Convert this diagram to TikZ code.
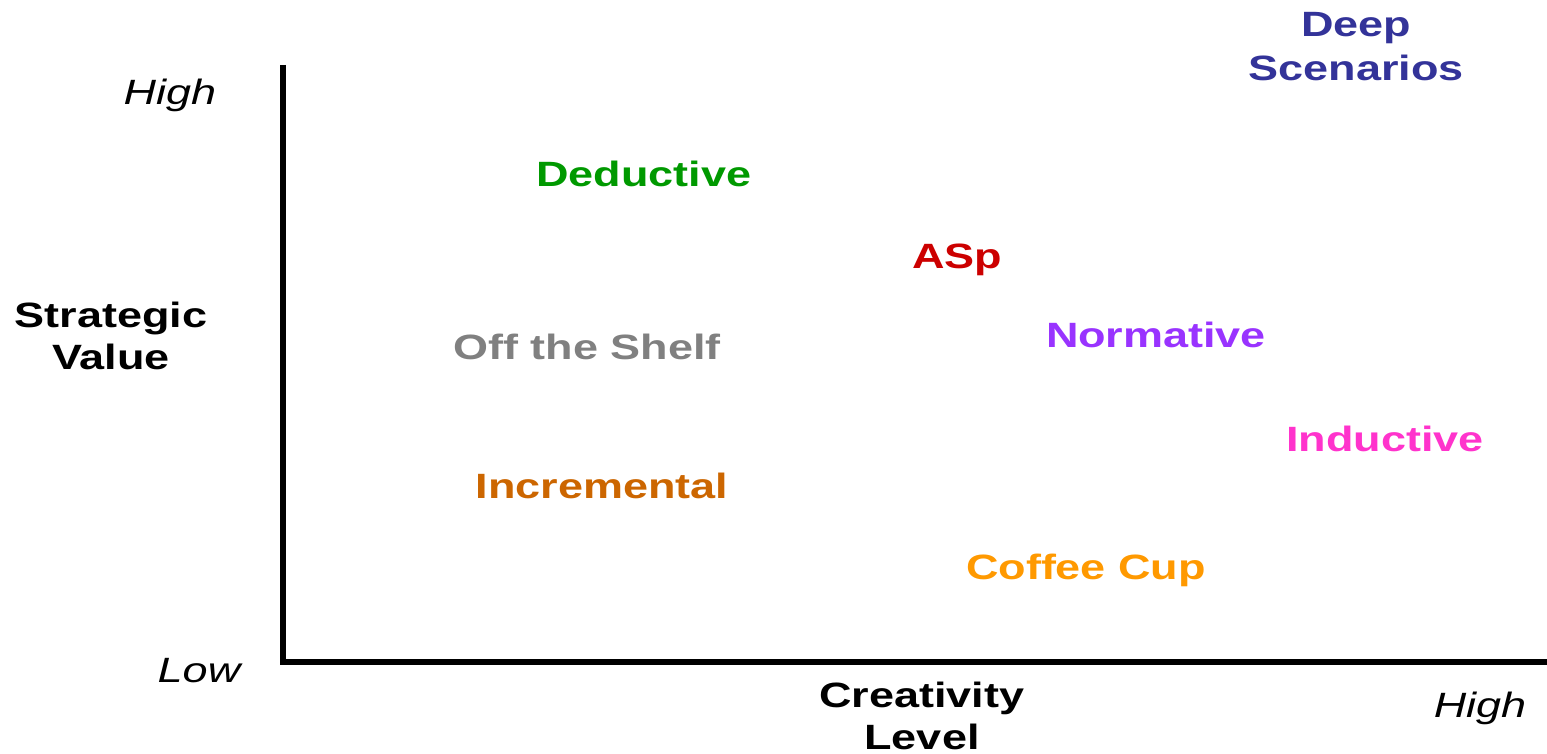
\documentclass[tikz,border=0pt]{standalone}
\usepackage{fontspec}
\setmainfont[FakeStretch=1.28]{Liberation Sans}
\usepackage{tikz}
\usepackage{xcolor}

\definecolor{deepblue}{HTML}{333399}
\definecolor{dedgreen}{HTML}{009900}
\definecolor{asred}{HTML}{CC0000}
\definecolor{normpurple}{HTML}{9933FF}
\definecolor{shelfgray}{HTML}{808080}
\definecolor{indpink}{HTML}{FF33CC}
\definecolor{incbrown}{HTML}{CC6600}
\definecolor{cuporange}{HTML}{FF9900}

\begin{document}
\begin{tikzpicture}[
    lbl/.style={font=\fontsize{10}{12.5}\selectfont\bfseries, anchor=base, inner sep=0pt},
    tick/.style={font=\fontsize{10}{12.5}\selectfont\itshape, anchor=base, inner sep=0pt},
    axlbl/.style={font=\fontsize{10}{12}\selectfont\bfseries, align=center, inner sep=0pt}]
    \useasboundingbox (0,0) rectangle (15.47,7.54);

    % axes
    \coordinate (ytop) at (2.83,6.89);
    \coordinate (origin) at (2.83,0.92);
    \coordinate (xend) at (15.47,0.92);
    \draw[line width=0.06cm] (ytop) -- (origin) -- (xend);

    \node[tick] (yhigh) at (1.70,6.49) {High};
    \node[tick] (ylow) at (1.99,0.71) {Low};
    \node[tick] (xhigh) at (14.80,0.36) {High};
    \node[axlbl] (yname) at (1.11,4.18) {Strategic\\Value};
    \node[axlbl] (xname) at (9.22,0.38) {Creativity\\Level};

    % methods
    \node[lbl, text=deepblue, align=center, anchor=center] (deep) at (13.56,7.07) {Deep\\Scenarios};
    \node[lbl, text=dedgreen] (deductive) at (6.44,5.67) {Deductive};
    \node[lbl, text=asred] (asp) at (9.57,4.85) {ASp};
    \node[lbl, text=normpurple] (normative) at (11.56,4.06) {Normative};
    \node[lbl, text=shelfgray] (shelf) at (5.87,3.94) {Off the Shelf};
    \node[lbl, text=indpink] (inductive) at (13.85,3.02) {Inductive};
    \node[lbl, text=incbrown] (incremental) at (6.02,2.55) {Incremental};
    \node[lbl, text=cuporange] (coffee) at (10.86,1.74) {Coffee Cup};
\end{tikzpicture}
\end{document}
